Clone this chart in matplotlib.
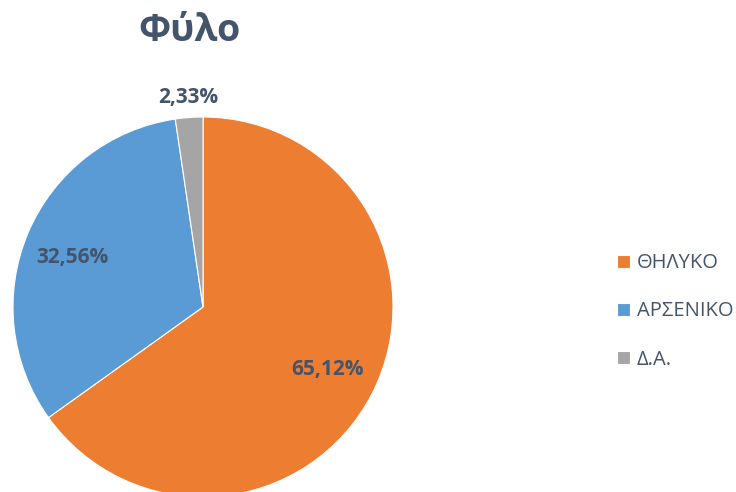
import matplotlib.pyplot as plt

labels = ['ΘΗΛΥΚΟ', 'ΑΡΣΕΝΙΚΟ', 'Δ.Α.']
values = [65.12, 32.56, 2.33]
pct_text = ['65,12%', '32,56%', '2,33%']
colors = ['#ED7D31', '#5B9BD5', '#A5A5A5']
txt_color = '#44546A'

plt.rcParams['font.family'] = ['Open Sans', 'DejaVu Sans']

fig = plt.figure(figsize=(7.36, 4.92), dpi=100)
ax = fig.add_axes([0, 0, 1, 1])

wedges, _ = ax.pie(values, colors=colors, startangle=90, counterclock=False,
                   center=(203, 185), radius=190, frame=True,
                   wedgeprops=dict(edgecolor='white', linewidth=0.8))
ax.set_xlim(0, 736)
ax.set_ylim(0, 492)
ax.set_aspect('equal')
ax.axis('off')

# label positions (pixel coords, y up)
lab_pos = [(328, 122), (72, 234), (188, 394)]
for (x, y), t in zip(lab_pos, pct_text):
    ax.text(x, y, t, ha='center', va='center', fontsize=15,
            fontweight='bold', color=txt_color)

ax.text(189, 461, 'Φύλο', ha='center', va='center', fontsize=27,
        fontweight='bold', color=txt_color)

leg = ax.legend(wedges, labels, loc='upper left', bbox_to_anchor=(599 / 736, 1 - 235 / 492),
                frameon=False, fontsize=14.5, handlelength=0.62, handleheight=0.62,
                handletextpad=0.35, labelspacing=1.4)
for t in leg.get_texts():
    t.set_color(txt_color)

fig.savefig('out.png', dpi=100)
